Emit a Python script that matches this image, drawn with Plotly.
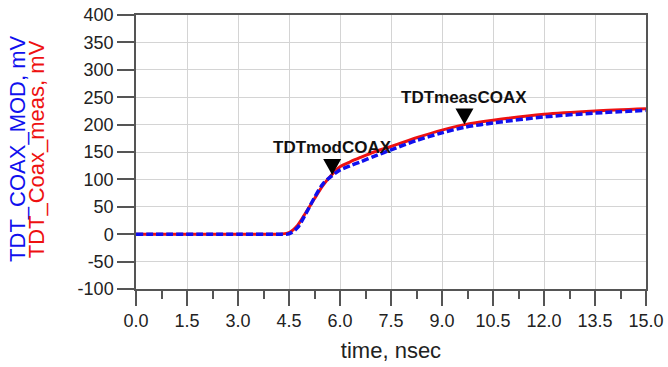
import plotly.graph_objects as go

# time axis (ns)
time_ns = [0.0, 3.0, 4.0, 4.3, 4.5, 4.75, 5.0, 5.25, 5.5, 5.75, 6.0, 6.3, 6.6, 7.0,
           7.5, 8.25, 9.0, 9.66, 10.5, 12.0, 13.5, 15.0]
# measured coax TDT (mV)
tdt_meas = [0, 0, 0, 0.5, 3, 16, 40, 65, 89, 108, 123, 132, 140, 150,
            160, 176, 190, 200, 208, 219, 225, 229]
# modelled coax TDT (mV)
tdt_mod = [0, 0, 0, 0, 0.5, 12, 38, 67, 92, 106, 117, 125, 132, 142,
           154, 171, 185, 195, 203, 214, 221, 226]

# markers
marker_names = ["TDTmodCOAX", "TDTmeasCOAX"]
marker_times = [5.77, 9.66]
marker_values = [108, 200]

x_ticks = [0.0, 1.5, 3.0, 4.5, 6.0, 7.5, 9.0, 10.5, 12.0, 13.5, 15.0]
y_ticks = [-100, -50, 0, 50, 100, 150, 200, 250, 300, 350, 400]

FONT = "Arial, Liberation Sans, sans-serif"
RED = "#ee1111"
BLUE = "#1010ee"

fig = go.Figure()
fig.add_trace(go.Scatter(x=time_ns, y=tdt_meas, mode="lines",
                         line=dict(color=RED, width=3, shape="spline", smoothing=0.8),
                         name="TDT_Coax_meas"))
fig.add_trace(go.Scatter(x=time_ns, y=tdt_mod, mode="lines",
                         line=dict(color=BLUE, width=3.5, dash="7px,3px", shape="spline", smoothing=0.8),
                         name="TDT_COAX_MOD"))

shapes = []
annotations = []
for name, t, v in zip(marker_names, marker_times, marker_values):
    shapes.append(dict(type="path", xref="x", yref="y", xsizemode="pixel", ysizemode="pixel",
                       xanchor=t, yanchor=v, path="M-9,16 L9,16 L0,0 Z",
                       fillcolor="black", line=dict(width=0)))
    annotations.append(dict(x=t, y=v, xref="x", yref="y", text="<b>" + name + "</b>",
                            showarrow=False, yanchor="bottom", yshift=16,
                            font=dict(family=FONT, size=17, color="#111111")))

annotations.append(dict(x=-0.232, y=0.51, xref="paper", yref="paper", text="TDT_COAX_MOD, mV",
                        textangle=-90, showarrow=False, xanchor="center", yanchor="middle",
                        font=dict(family=FONT, size=22, color=BLUE)))
annotations.append(dict(x=-0.196, y=0.51, xref="paper", yref="paper", text="TDT_Coax_meas, mV",
                        textangle=-90, showarrow=False, xanchor="center", yanchor="middle",
                        font=dict(family=FONT, size=22, color=RED)))

fig.update_layout(
    width=668, height=367,
    margin=dict(l=135.5, r=22, t=15, b=78),
    paper_bgcolor="white", plot_bgcolor="white",
    showlegend=False,
    shapes=shapes, annotations=annotations,
    font=dict(family=FONT, size=18, color="#222222"),
)
fig.update_xaxes(
    range=[0, 15], tickvals=x_ticks, ticktext=[f"{v:.1f}" for v in x_ticks],
    ticks="outside", ticklen=15, tickwidth=1.5, tickcolor="#555555",
    minor=dict(dtick=0.75, tick0=0, ticks="outside", ticklen=8, tickwidth=1.5,
               tickcolor="#555555", showgrid=False),
    showline=True, linecolor="#555555", linewidth=1.5, mirror=True,
    showgrid=True, gridcolor="#d4d4d4", gridwidth=1, zeroline=False,
    title=dict(text="time, nsec", font=dict(size=22, color="#222222"), standoff=12),
    tickfont=dict(size=18, color="#222222"), automargin=False,
)
fig.update_yaxes(
    range=[-100, 400], tickvals=y_ticks, ticktext=[str(v) for v in y_ticks],
    ticks="outside", ticklen=17, tickwidth=1.5, tickcolor="#555555",
    showline=True, linecolor="#555555", linewidth=1.5, mirror=True,
    showgrid=True, gridcolor="#d4d4d4", gridwidth=1, zeroline=False,
    tickfont=dict(size=18, color="#222222"), automargin=False,
)

fig.write_html("out.html", config={"displayModeBar": False},
               post_script="document.body.style.margin='0';document.body.style.overflow='hidden';")
